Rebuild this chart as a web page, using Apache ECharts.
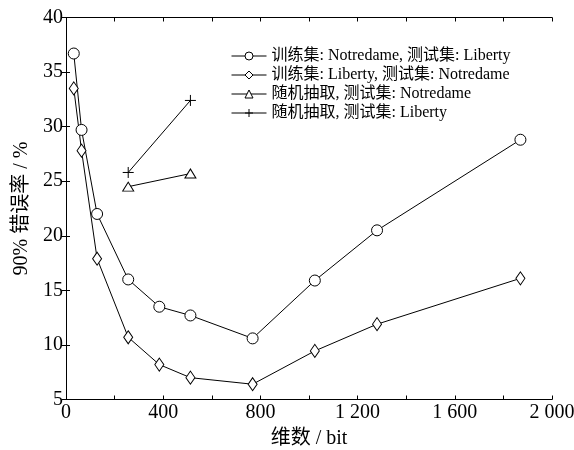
<!DOCTYPE html>
<html>
<head>
<meta charset="utf-8">
<script src="https://cdn.jsdelivr.net/npm/echarts@6/dist/echarts.min.js"></script>
<style>html,body{margin:0;padding:0;background:#fff;}#c{width:574px;height:450px;}</style>
</head>
<body>
<div id="c"></div>
<script>
var dims = [32, 64, 128, 256, 384, 512, 768, 1024, 1280, 1870];
var trainNotredame = [36.7, 29.7, 22.0, 16.0, 13.5, 12.7, 10.6, 15.9, 20.5, 28.8];
var trainLiberty = [33.5, 27.8, 17.9, 10.7, 8.2, 7.0, 6.4, 9.45, 11.9, 16.1];
var randomDims = [256, 512];
var randomNotredame = [24.5, 25.7];
var randomLiberty = [25.8, 32.4];
var seriesNames = ['训练集: Notredame, 测试集: Liberty', '训练集: Liberty, 测试集: Notredame', '随机抽取, 测试集: Notredame', '随机抽取, 测试集: Liberty'];
var xTicks = [0, 400, 800, 1200, 1600, 2000];
var yTicks = [5, 10, 15, 20, 25, 30, 35, 40];

var FONT = '"Liberation Serif", "Noto Sans CJK SC", serif';
function pairs(xs, ys) { return xs.map(function (x, i) { return [x, ys[i]]; }); }
function fmtX(v) {
  if (xTicks.indexOf(v) < 0) return '';
  var s = String(v);
  if (s.length > 3) s = s.slice(0, s.length - 3) + ' ' + s.slice(s.length - 3);
  return s;
}
var mk = { color: '#fff', borderColor: '#000', borderWidth: 1 };
var ln = { color: '#000', width: 1 };
function ser(name, data, symbol, size) {
  return { name: name, type: 'line', data: data, symbol: symbol, symbolSize: size,
    itemStyle: mk, lineStyle: ln, animation: false, z: 3,
    emphasis: { disabled: true } };
}
var axisCommon = {
  axisLine: { show: true, lineStyle: { color: '#000', width: 1 } },
  axisTick: { show: true, inside: true, length: 4, lineStyle: { color: '#000', width: 1 } },
  splitLine: { show: false }
};
var chart = echarts.init(document.getElementById('c'), null, { renderer: 'canvas' });
chart.setOption({
  backgroundColor: '#fff',
  textStyle: { fontFamily: FONT },
  grid: { left: 66, right: 22, top: 17.5, bottom: 50.5, containLabel: false, outerBoundsMode: 'none' },
  legend: {
    orient: 'vertical', left: 226, top: 43, itemWidth: 35, itemHeight: 10, itemGap: 3,
    lineStyle: { width: 1, color: '#000' },
    itemStyle: { borderWidth: 1, borderColor: '#000', color: '#fff' },
    textStyle: { fontFamily: FONT, fontSize: 16, color: '#000', lineHeight: 16 },
    data: seriesNames
  },
  xAxis: [
    Object.assign({ type: 'value', min: 0, max: 2000, interval: 200, position: 'bottom',
      name: '维数 / bit', nameLocation: 'middle', nameGap: 29,
      nameTextStyle: { fontFamily: FONT, fontSize: 20, color: '#000' },
      axisLabel: { show: true, margin: 3, fontFamily: FONT, fontSize: 20, color: '#000', formatter: fmtX, showMinLabel: true, showMaxLabel: true } }, axisCommon),
    Object.assign({ type: 'value', min: 0, max: 2000, interval: 200, position: 'top',
      axisLabel: { show: false } }, axisCommon)
  ],
  yAxis: [
    Object.assign({ type: 'value', min: 5, max: 40, interval: 5, position: 'left',
      name: '90% 错误率 / %', nameLocation: 'middle', nameGap: 33,
      nameTextStyle: { fontFamily: FONT, fontSize: 20, color: '#000' },
      axisLabel: { show: true, margin: 3, fontFamily: FONT, fontSize: 20, color: '#000',
        formatter: function (v) { return yTicks.indexOf(v) >= 0 ? String(v) : ''; } } }, axisCommon),
    Object.assign({ type: 'value', min: 5, max: 40, interval: 5, position: 'right',
      axisLabel: { show: false } }, axisCommon)
  ],
  series: [
    ser(seriesNames[0], pairs(dims, trainNotredame), 'circle', 11),
    ser(seriesNames[1], pairs(dims, trainLiberty), 'diamond', [9, 13]),
    ser(seriesNames[2], pairs(randomDims, randomNotredame), 'triangle', [11, 9]),
    ser(seriesNames[3], pairs(randomDims, randomLiberty), 'path://M0,5L10,5M5,0L5,10', 11)
  ]
});
</script>
</body>
</html>
